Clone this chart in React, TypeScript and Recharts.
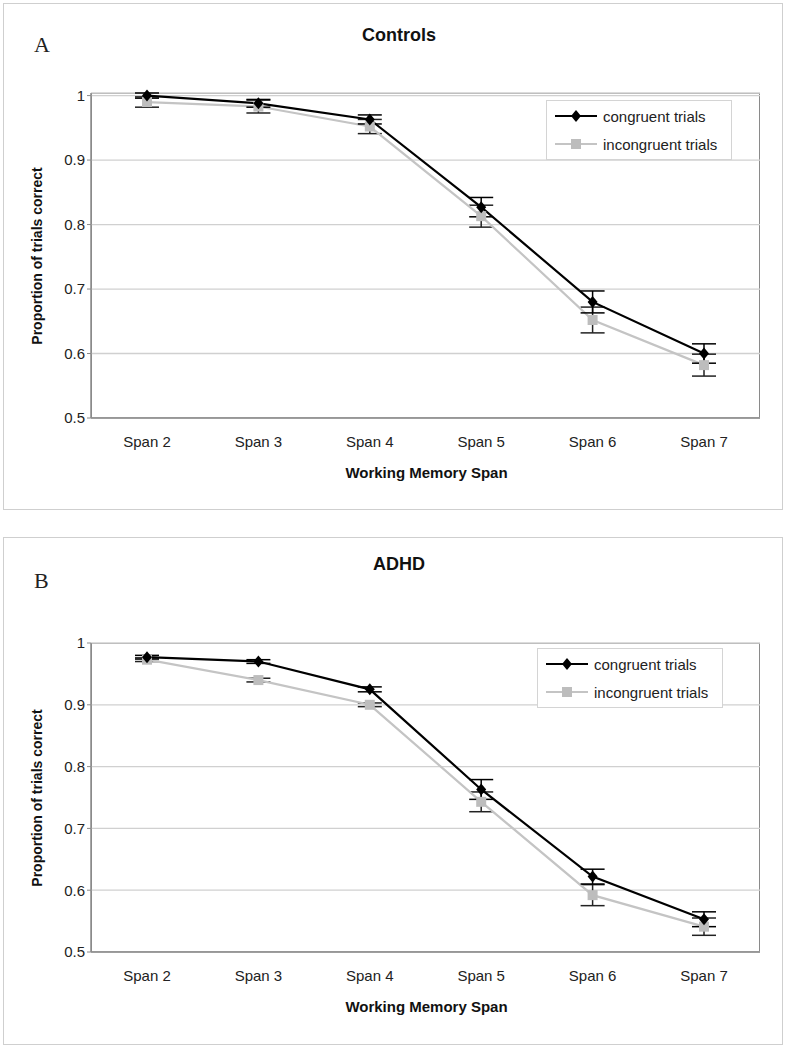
import React from 'react';
import { LineChart, Line, XAxis, YAxis, CartesianGrid, ErrorBar } from 'recharts';

// ---------------------------------------------------------------------------
// Data
// ---------------------------------------------------------------------------

const SPANS = ['Span 2', 'Span 3', 'Span 4', 'Span 5', 'Span 6', 'Span 7'];
const Y_TICKS = [0.5, 0.6, 0.7, 0.8, 0.9, 1];
const BOUNDARY_TICKS = [0, 1, 2, 3, 4, 5, 6];

const CTRL_CONG = [1.0, 0.988, 0.963, 0.827, 0.68, 0.6];
const CTRL_CONG_ERR = [0.004, 0.006, 0.007, 0.015, 0.017, 0.015];
const CTRL_INCONG = [0.99, 0.983, 0.952, 0.813, 0.652, 0.582];
const CTRL_INCONG_ERR = [0.008, 0.01, 0.011, 0.017, 0.02, 0.017];

const ADHD_CONG = [0.977, 0.97, 0.925, 0.763, 0.622, 0.553];
const ADHD_CONG_ERR = [0.003, 0.003, 0.004, 0.016, 0.012, 0.012];
const ADHD_INCONG = [0.973, 0.94, 0.9, 0.743, 0.592, 0.541];
const ADHD_INCONG_ERR = [0.003, 0.003, 0.003, 0.016, 0.017, 0.014];

const FONT = '"Liberation Sans", Arial, sans-serif';
const AXIS = '#8a8a8a';

// chart geometry inside each panel
const CHART_W = 778;
const M_LEFT = 47;
const Y_W = 40;
const M_RIGHT = 22;

function build(cong: number[], congErr: number[], incong: number[], incongErr: number[]) {
  return SPANS.map((span, i) => ({ span, cong: cong[i], congErr: congErr[i], incong: incong[i], incongErr: incongErr[i] }));
}

// ---------------------------------------------------------------------------
// Markers + legend
// ---------------------------------------------------------------------------

const Diamond = (p: any) => {
  const { cx, cy } = p;
  if (cx == null || cy == null) return null;
  return <polygon key={`d${p.index}`} points={`${cx},${cy - 6} ${cx + 5},${cy} ${cx},${cy + 6} ${cx - 5},${cy}`} fill="#000" />;
};

const Square = (p: any) => {
  const { cx, cy } = p;
  if (cx == null || cy == null) return null;
  return <rect key={`s${p.index}`} x={cx - 5} y={cy - 5} width={10} height={10} fill="#bdbdbd" />;
};

const NoLabel = () => <g />;

function LegendBox({ x, y }: { x: number; y: number }) {
  const row = (color: string, marker: React.ReactNode, label: string) => (
    <div style={{ display: 'flex', alignItems: 'center', height: 28 }}>
      <svg width={46} height={14} style={{ marginRight: 4 }}>
        <line x1={2} y1={7} x2={44} y2={7} stroke={color} strokeWidth={2} />
        {marker}
      </svg>
      <span style={{ fontFamily: FONT, fontSize: 15, color: '#222' }}>{label}</span>
    </div>
  );
  return (
    <div style={{ position: 'absolute', left: x, top: y, border: '1px solid #d4d4d4', background: '#fff', padding: '1px 6px', width: 172 }}>
      {row('#000', <polygon points="23,1 28,7 23,13 18,7" fill="#000" />, 'congruent trials')}
      {row('#c4c4c4', <rect x={18} y={2} width={10} height={10} fill="#bdbdbd" />, 'incongruent trials')}
    </div>
  );
}

// ---------------------------------------------------------------------------
// Panel
// ---------------------------------------------------------------------------

type PanelProps = {
  top: number; height: number; letter: string; title: string; titleY: number; letterY: number;
  plotTop: number; plotBottom: number; legendX: number; legendY: number; data: ReturnType<typeof build>;
};

function Panel({ top, height, letter, title, titleY, letterY, plotTop, plotBottom, legendX, legendY, data }: PanelProps) {
  const chartH = height;
  const xAxisH = 30;
  const plotLeft = M_LEFT + Y_W;
  const plotRight = CHART_W - M_RIGHT;
  return (
    <div style={{ position: 'absolute', left: 3, top, width: 778, height, border: '1px solid #cfcfcf', background: '#fff' }}>
      <div style={{ position: 'absolute', left: 30, top: letterY, fontFamily: '"Liberation Serif", "Times New Roman", serif', fontSize: 22, color: '#222' }}>{letter}</div>
      <div style={{ position: 'absolute', left: 0, width: 790, top: titleY, textAlign: 'center', fontFamily: FONT, fontWeight: 700, fontSize: 18, color: '#111' }}>{title}</div>
      {/* plot frame */}
      <div style={{ position: 'absolute', left: plotLeft, top: plotTop, width: plotRight - plotLeft, height: plotBottom - plotTop, boxSizing: 'border-box', border: `1.5px solid ${AXIS}` }} />
      <div style={{ position: 'absolute', left: 0, top: 0 }}>
        <LineChart width={CHART_W} height={chartH} data={data}
          margin={{ top: plotTop, right: M_RIGHT, left: M_LEFT, bottom: chartH - plotBottom - xAxisH }}>
          <CartesianGrid vertical={false} stroke="#d0d0d0" strokeWidth={1.3} />
          <XAxis xAxisId="bounds" type="number" domain={[0, 6]} ticks={BOUNDARY_TICKS} height={0} tick={NoLabel}
            axisLine={false} tickLine={{ stroke: AXIS, strokeWidth: 1.2 }} tickSize={5} />
          <XAxis dataKey="span" height={xAxisH} padding={{ left: 56, right: 56 }} axisLine={{ stroke: AXIS, strokeWidth: 1.5 }} tickLine={false}
            tick={{ fontSize: 15, fill: '#222', fontFamily: FONT }} dy={10} />
          <YAxis domain={[0.5, 1]} ticks={Y_TICKS} width={Y_W} axisLine={{ stroke: AXIS, strokeWidth: 1.5 }}
            tickLine={{ stroke: AXIS }} tickSize={4} tick={{ fontSize: 15, fill: '#222', fontFamily: FONT }} />
          <Line type="linear" dataKey="incong" name="incongruent trials" stroke="#c4c4c4" strokeWidth={2.2} dot={Square} activeDot={false} isAnimationActive={false}>
            <ErrorBar dataKey="incongErr" width={12} stroke="#222" strokeWidth={1.5} direction="y" />
          </Line>
          <Line type="linear" dataKey="cong" name="congruent trials" stroke="#000" strokeWidth={2.2} dot={Diamond} activeDot={false} isAnimationActive={false}>
            <ErrorBar dataKey="congErr" width={12} stroke="#000" strokeWidth={1.5} direction="y" />
          </Line>
        </LineChart>
      </div>
      <LegendBox x={legendX} y={legendY} />
      <div style={{ position: 'absolute', left: 0, width: 845, top: plotBottom + 46, textAlign: 'center', fontFamily: FONT, fontWeight: 700, fontSize: 15, color: '#111' }}>Working Memory Span</div>
      <div style={{ position: 'absolute', left: 33, top: (plotTop + plotBottom) / 2, width: 0, height: 0 }}>
        <div style={{ position: 'absolute', transform: 'translate(-50%, -50%) rotate(-90deg)', whiteSpace: 'nowrap', fontFamily: FONT, fontWeight: 700, fontSize: 14, color: '#111' }}>Proportion of trials correct</div>
      </div>
    </div>
  );
}

export default function App() {
  const ctrl = build(CTRL_CONG, CTRL_CONG_ERR, CTRL_INCONG, CTRL_INCONG_ERR);
  const adhd = build(ADHD_CONG, ADHD_CONG_ERR, ADHD_INCONG, ADHD_INCONG_ERR);
  return (
    <div style={{ position: 'absolute', left: 0, top: 0, width: 789, height: 1050, background: '#fff' }}>
      <Panel top={3} height={505} letter="A" title="Controls" titleY={21} letterY={28}
        plotTop={89} plotBottom={414} legendX={542} legendY={96} data={ctrl} />
      <Panel top={537} height={506} letter="B" title="ADHD" titleY={16} letterY={30}
        plotTop={105} plotBottom={414} legendX={533} legendY={110} data={adhd} />
    </div>
  );
}
